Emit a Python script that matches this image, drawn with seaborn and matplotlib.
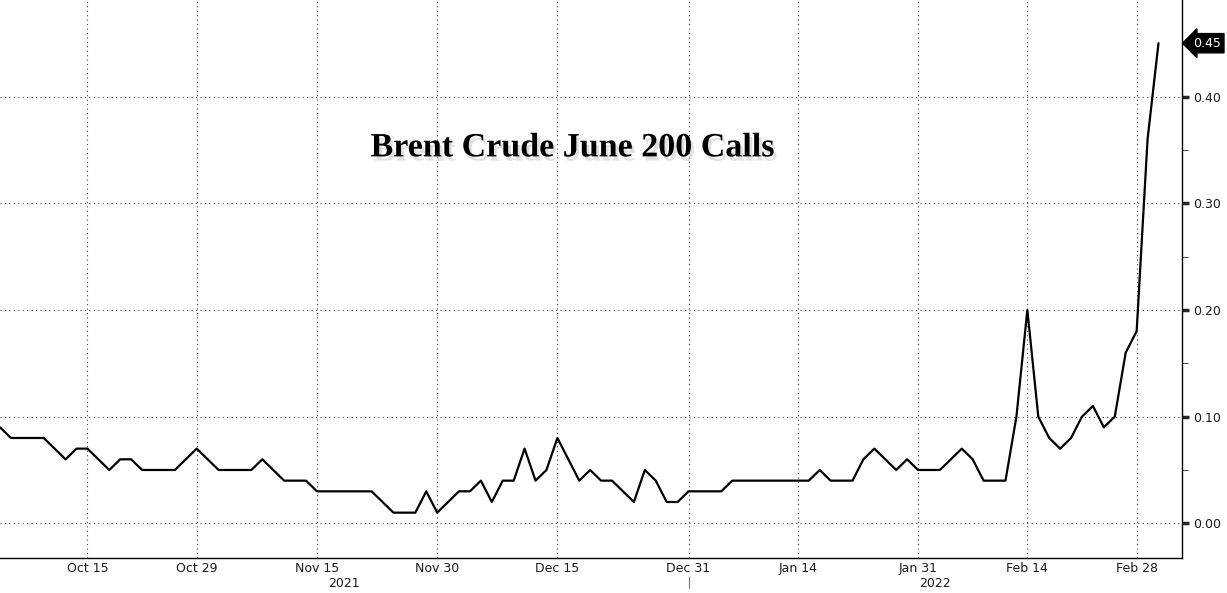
import pandas as pd
import seaborn as sns
import numpy as np
import matplotlib.pyplot as plt
import matplotlib.patheffects as pe
import matplotlib.transforms as mtransforms

# business days, one value per trading day
dates = pd.bdate_range('2021-10-05', '2022-03-02')
call_prices = [
    0.09, 0.08, 0.08, 0.08, 0.08, 0.07, 0.06, 0.07, 0.07, 0.06,
    0.05, 0.06, 0.06, 0.05, 0.05, 0.05, 0.05, 0.06, 0.07, 0.06,
    0.05, 0.05, 0.05, 0.05, 0.06, 0.05, 0.04, 0.04, 0.04, 0.03,
    0.03, 0.03, 0.03, 0.03, 0.03, 0.02, 0.01, 0.01, 0.01, 0.03,
    0.01, 0.02, 0.03, 0.03, 0.04, 0.02, 0.04, 0.04, 0.07, 0.04,
    0.05, 0.08, 0.06, 0.04, 0.05, 0.04, 0.04, 0.03, 0.02, 0.05,
    0.04, 0.02, 0.02, 0.03, 0.03, 0.03, 0.03, 0.04, 0.04, 0.04,
    0.04, 0.04, 0.04, 0.04, 0.04, 0.05, 0.04, 0.04, 0.04, 0.06,
    0.07, 0.06, 0.05, 0.06, 0.05, 0.05, 0.05, 0.06, 0.07, 0.06,
    0.04, 0.04, 0.04, 0.10, 0.20, 0.10, 0.08, 0.07, 0.08, 0.10,
    0.11, 0.09, 0.10, 0.16, 0.18, 0.36, 0.45,
]

label_dates = ['2021-10-15', '2021-10-29', '2021-11-15', '2021-11-30', '2021-12-15',
               '2021-12-31', '2022-01-14', '2022-01-31', '2022-02-14', '2022-02-28']
label_texts = ['Oct 15', 'Oct 29', 'Nov 15', 'Nov 30', 'Dec 15',
               'Dec 31', 'Jan 14', 'Jan 31', 'Feb 14', 'Feb 28']
minor_dates = ['2021-10-07', '2021-10-22', '2021-11-08', '2021-11-22', '2021-12-08',
               '2021-12-22', '2022-01-07', '2022-01-24', '2022-02-07', '2022-02-21']
year_labels = ['2021', '2022']
year_break = '2021-12-31'
y_ticks = [0.0, 0.1, 0.2, 0.3, 0.4]
y_minor = [0.05, 0.15, 0.25, 0.35]
title = 'Brent Crude June 200 Calls'

calls = pd.DataFrame({'date': dates, 'price': call_prices})
calls['pos'] = np.arange(len(calls))
pos_of = dict(zip(calls['date'], calls['pos']))

sns.set_style('white')
plt.rcParams['font.family'] = ['DejaVu Sans']

fig = plt.figure(figsize=(12.27, 5.93), dpi=100)
ax = fig.add_axes([0, 35 / 593, 1182 / 1227, 558 / 593])

sns.lineplot(data=calls, x='pos', y='price', color='black', linewidth=1.6, ax=ax)

x_max = 108.15
ax.set_xlim(0, x_max)
ax.set_ylim(-0.0325, 0.4905)
ax.set_xlabel('')
ax.set_ylabel('')

for side in ['left', 'top']:
    ax.spines[side].set_visible(False)
for side in ['right', 'bottom']:
    ax.spines[side].set_color('black')
    ax.spines[side].set_linewidth(1)

# x axis: labelled dates + weekly minor ticks
ax.set_xticks([pos_of[pd.Timestamp(d)] for d in label_dates])
ax.set_xticklabels(label_texts)
ax.set_xticks([pos_of[pd.Timestamp(d)] for d in minor_dates], minor=True)
ax.tick_params(axis='x', which='major', length=0, pad=3, labelsize=9, labelcolor='#1a1a1a')
ax.tick_params(axis='x', which='minor', direction='in', length=5, width=0.8, color='#555555')

# y axis on the right
ax.yaxis.tick_right()
ax.set_yticks(y_ticks)
ax.set_yticklabels([f'{v:.2f}' for v in y_ticks])
ax.set_yticks(y_minor, minor=True)
ax.tick_params(axis='y', which='major', direction='out', length=5, width=2.5, pad=3,
               labelsize=9, labelcolor='#1a1a1a')
ax.tick_params(axis='y', which='minor', direction='out', length=4, width=0.8, color='#555555')

ax.grid(True, which='major', axis='both', linestyle=(0, (1, 3)), color='#444444', linewidth=0.8)

# year labels under the axis
trans = mtransforms.blended_transform_factory(ax.transData, ax.transAxes)
brk = pos_of[pd.Timestamp(year_break)]
ax.text(brk / 2, -0.045, year_labels[0], transform=trans, ha='center', va='center',
        fontsize=9, color='#1a1a1a')
ax.text((brk + x_max) / 2, -0.045, year_labels[1], transform=trans, ha='center', va='center',
        fontsize=9, color='#1a1a1a')
ax.plot([brk, brk], [-0.034, -0.054], transform=trans, color='#777777', linewidth=0.8, clip_on=False)

# last value tag
trans_y = mtransforms.blended_transform_factory(ax.transAxes, ax.transData)
ax.annotate(f'{call_prices[-1]:.2f}', xy=(1.0, call_prices[-1]), xycoords=trans_y,
            xytext=(11, 0), textcoords='offset pixels', ha='left', va='center',
            fontsize=9, color='white',
            bbox=dict(boxstyle='larrow,pad=0.25', facecolor='black', edgecolor='black'))

ax.text(0.484, 0.735, title, transform=ax.transAxes, ha='center', va='center',
        fontsize=24.5, fontweight='bold', family=['Liberation Serif', 'DejaVu Serif'], color='black',
        path_effects=[pe.withSimplePatchShadow(offset=(2, -3), shadow_rgbFace='#999999', alpha=0.3)])

fig.savefig('out.png', dpi=100)
